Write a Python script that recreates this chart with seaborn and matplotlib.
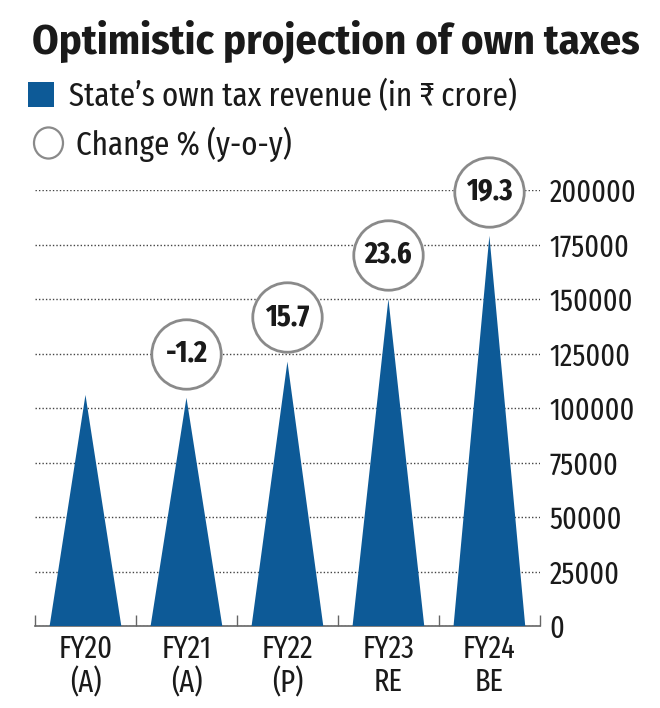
import matplotlib

matplotlib.use("Agg")

import matplotlib.pyplot as plt
import numpy as np
import pandas as pd
import seaborn as sns
from matplotlib import font_manager
from matplotlib.patches import Circle, Polygon, Rectangle

# data
years = ["FY20\n(A)", "FY21\n(A)", "FY22\n(P)", "FY23\nRE", "FY24\nBE"]
revenue = [106000, 104700, 121300, 150000, 179000]
change_pct = [None, "-1.2", "15.7", "23.6", "19.3"]
y_ticks = [0, 25000, 50000, 75000, 100000, 125000, 150000, 175000, 200000]

BLUE = "#0d5a97"
GREY = "#8a8a8a"
W, H = 660, 708

sns.set_theme(style="white")
installed = {f.name for f in font_manager.fontManager.ttflist}


def pick(*cands):
    for c in cands:
        if c in installed:
            return c
    return "DejaVu Sans"


body = pick("Fira Sans Extra Condensed", "Fira Sans Condensed", "Roboto Condensed", "Archivo Narrow")
head = pick("Fira Sans Condensed", "Fira Sans", "Roboto Condensed")
plt.rcParams["font.family"] = [body, "DejaVu Sans"]
plt.rcParams["text.color"] = "#1a1a1a"

df = pd.DataFrame({"year": years, "revenue": revenue})

fig = plt.figure(figsize=(6.6, 7.08), dpi=100)
renderer = fig.canvas.get_renderer()


def fit(t, target_px):
    # scale a text so that its width matches the reference width in pixels
    w = t.get_window_extent(renderer).width
    t.set_fontsize(t.get_fontsize() * target_px / w)
    return t


ax = fig.add_axes([0.053, 0.1158, 0.765, 0.6158])

sns.barplot(data=df, x="year", y="revenue", color=BLUE, width=0.71, ax=ax)

# turn every seaborn bar into a spike (triangle) with the same base and height
for p in list(ax.patches):
    x0, w, h = p.get_x(), p.get_width(), p.get_height()
    ax.add_patch(Polygon([[x0, 0], [x0 + w / 2, h], [x0 + w, 0]], closed=True,
                         facecolor=BLUE, edgecolor="none", zorder=3))
    p.set_visible(False)

# change % circles above the spikes
idx = [i for i, c in enumerate(change_pct) if c]
circ = pd.DataFrame({"x": idx, "y": [revenue[i] + 20300 for i in idx]})
sns.scatterplot(data=circ, x="x", y="y", s=2500, marker="o", facecolor="white",
                edgecolor=GREY, linewidth=2.0, ax=ax, zorder=5, clip_on=False, legend=False)
labels = []
for i in idx:
    labels.append(ax.text(i, revenue[i] + 20300, change_pct[i], ha="center", va="center",
                          fontsize=20, fontweight="bold", zorder=6, clip_on=False))
size_pct = 20 * 48 / labels[2].get_window_extent(renderer).width
for t in labels:
    t.set_fontsize(size_pct)

ax.set_xlim(-0.5, len(years) - 0.5)
ax.set_ylim(0, 200000)
ax.set_yticks(y_ticks)
ax.set_yticklabels([str(t) for t in y_ticks])
ax.yaxis.tick_right()

probe = fig.text(0, 0, "200000", fontsize=17)
ytick_size = fit(probe, 87).get_fontsize()
probe.set_text("FY20")
probe.set_fontsize(17)
xtick_size = fit(probe, 54).get_fontsize()
probe.remove()

ax.tick_params(axis="y", length=0, pad=7, labelsize=ytick_size, labelcolor="#1a1a1a")
ax.tick_params(axis="x", length=0, pad=6, labelsize=xtick_size, labelcolor="#1a1a1a")
ax.set_xticks(np.arange(-0.5, len(years), 1.0), minor=True)
ax.tick_params(axis="x", which="minor", direction="in", length=8, width=1, color="#666666", bottom=True)
ax.set_xlabel("")
ax.set_ylabel("")
for lab in ax.get_xticklabels():
    lab.set_linespacing(1.1)

ax.grid(axis="y", linestyle=(0, (1, 1.5)), color="#444444", linewidth=1.0, zorder=0)
ax.grid(axis="x", visible=False)
for s in ["top", "left", "right"]:
    ax.spines[s].set_visible(False)
ax.spines["bottom"].set_color("#666666")
ax.spines["bottom"].set_linewidth(1.2)
ax.set_facecolor("none")

# title and legend
title = fig.text(32 / W, 1 - 41 / H, "Optimistic projection of own taxes", fontsize=26,
                 fontweight="bold", va="center", ha="left", family=[head, "DejaVu Sans"])
fit(title, 607)
fig.patches.append(Rectangle((28 / W, 1 - 107 / H), 26 / W, 25 / H, transform=fig.transFigure,
                             facecolor=BLUE, edgecolor="none"))
leg1 = fig.text(69 / W, 1 - 96 / H, "State\u2019s own tax revenue (in \u20b9 crore)", fontsize=19,
                va="center", ha="left")
fit(leg1, 447)
fig.patches.append(Circle((48.5 / W, 1 - 143 / H), 14.5 / W, transform=fig.transFigure,
                          facecolor="white", edgecolor=GREY, linewidth=1.6))
leg2 = fig.text(76 / W, 1 - 144 / H, "Change % (y-o-y)", fontsize=leg1.get_fontsize(),
                va="center", ha="left")

fig.savefig("out.png", dpi=100)
